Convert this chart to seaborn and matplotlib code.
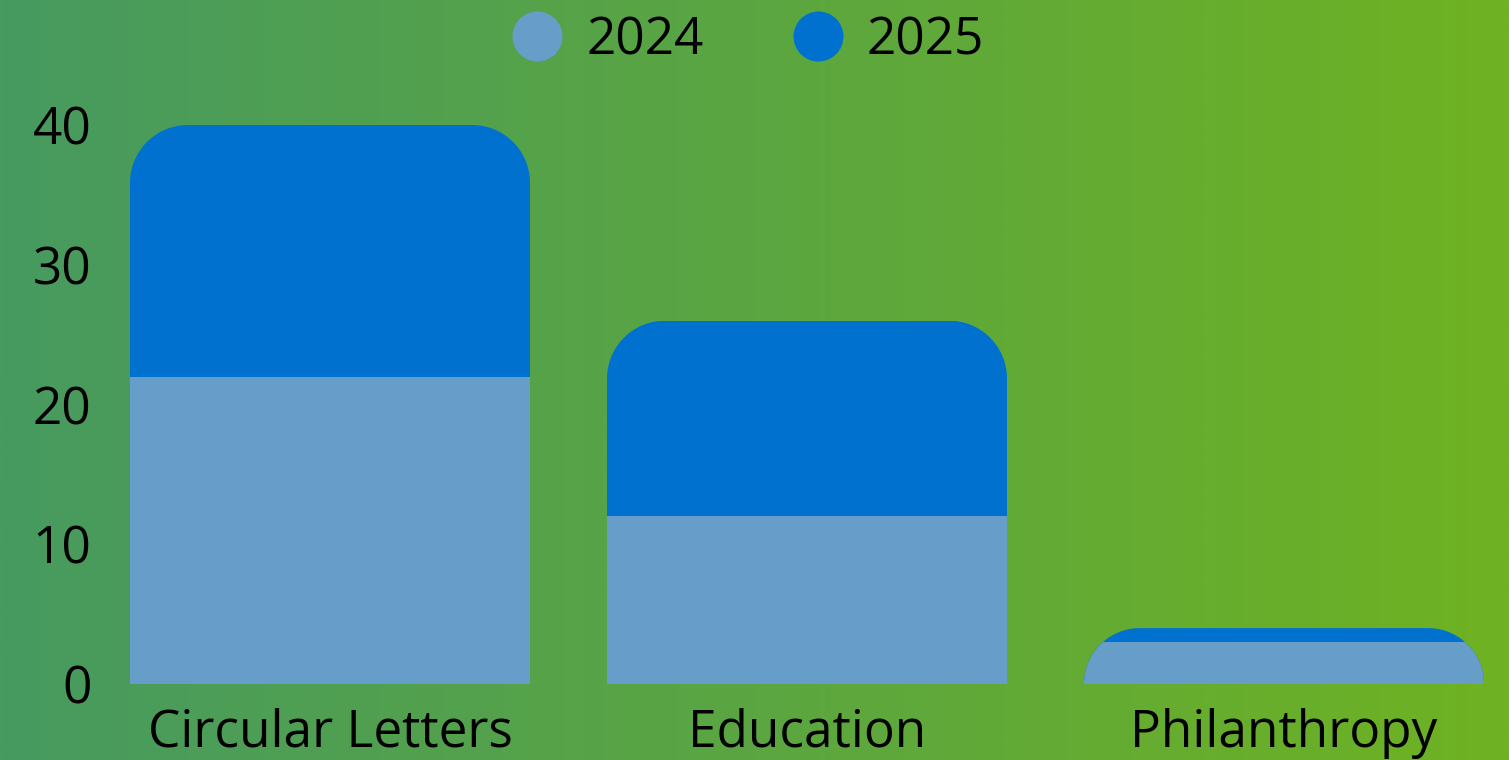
import numpy as np
import pandas as pd
import matplotlib
matplotlib.use("Agg")
import matplotlib.pyplot as plt
from matplotlib.path import Path
from matplotlib.lines import Line2D
from matplotlib.colors import LinearSegmentedColormap
import seaborn as sns

categories = ["Circular Letters", "Education", "Philanthropy"]
values_2024 = [22, 12, 3]
values_2025 = [18, 14, 1]
series_names = ["2024", "2025"]
y_ticks = [0, 10, 20, 30, 40]

color_2024 = "#679dc9"
color_2025 = "#0071ce"
bg_left = "#479a60"
bg_right = "#6fb222"
font_family = ["Open Sans", "DejaVu Sans"]

sns.set_theme(style="white")
plt.rcParams["font.family"] = font_family

W, H, DPI = 1509, 760, 100
fig = plt.figure(figsize=(W / DPI, H / DPI), dpi=DPI)

# horizontal gradient background
bg = fig.add_axes([0, 0, 1, 1], zorder=-10)
cmap = LinearSegmentedColormap.from_list("bg", [bg_left, bg_right])
bg.imshow(np.linspace(0, 1, 512)[None, :], cmap=cmap, aspect="auto",
          extent=[0, 1, 0, 1])
bg.set_axis_off()

# plot area: category pitch 477 px, first centre at x=330, y=0 at 684 px
pitch = 477.0
x_lo, x_hi = -0.5, 2.45
left_px = 330 - 0.5 * pitch
right_px = 330 + x_hi * pitch
y_top = 42
px_per_unit = (684 - 125) / 40.0
top_px = 684 - y_top * px_per_unit
ax = fig.add_axes([left_px / W, (H - 684) / H, (right_px - left_px) / W,
                   (684 - top_px) / H])
ax.patch.set_alpha(0)

totals = [a + b for a, b in zip(values_2024, values_2025)]
df = pd.DataFrame({"category": categories, "total": totals,
                   "y2024": values_2024})
bar_width = 400 / pitch

sns.barplot(data=df, x="category", y="total", color=color_2025,
            saturation=1, width=bar_width, errorbar=None, linewidth=0,
            edgecolor="none", ax=ax)
sns.barplot(data=df, x="category", y="y2024", color=color_2024,
            saturation=1, width=bar_width, errorbar=None, linewidth=0,
            edgecolor="none", ax=ax)

ax.set_xlim(x_lo, x_hi)
ax.set_ylim(0, y_top)
ax.set_yticks(y_ticks)
ax.set_xlabel("")
ax.set_ylabel("")
sns.despine(ax=ax, left=True, bottom=True)
ax.tick_params(axis="both", length=0, labelsize=37, colors="black")
ax.tick_params(axis="y", pad=0)
ax.tick_params(axis="x", pad=17)

# round the top corners of each stacked column
fig.canvas.draw()
sx = ax.transData.transform((1, 0))[0] - ax.transData.transform((0, 0))[0]
sy = ax.transData.transform((0, 1))[1] - ax.transData.transform((0, 0))[1]
radius_px = 58
n = len(categories)
for i, p in enumerate(ax.patches):
    k = i % n
    x0 = p.get_x()
    x1 = x0 + p.get_width()
    h = totals[k]
    r = min(radius_px, h * sy)
    rx, ry = r / sx, r / sy
    t = np.linspace(0, np.pi / 2, 40)
    left_arc = np.column_stack([x0 + rx - rx * np.cos(t), h - ry + ry * np.sin(t)])
    right_arc = np.column_stack([x1 - rx + rx * np.sin(t), h - ry + ry * np.cos(t)])
    verts = np.vstack([[x0, 0], left_arc, right_arc, [x1, 0], [x0, 0]])
    codes = [Path.MOVETO] + [Path.LINETO] * (len(verts) - 2) + [Path.CLOSEPOLY]
    p.set_clip_path(Path(verts, codes), ax.transData)

handles = [Line2D([], [], marker="o", linestyle="", markersize=36,
                  markerfacecolor=c, markeredgewidth=0)
           for c in (color_2024, color_2025)]
fig.legend(handles, series_names, loc="upper center",
           bbox_to_anchor=(0.4955, 1.041), ncol=2, frameon=False,
           fontsize=37, handlelength=1.0, handletextpad=0.45,
           columnspacing=1.72, labelcolor="black")

fig.savefig("out.png", dpi=DPI)
